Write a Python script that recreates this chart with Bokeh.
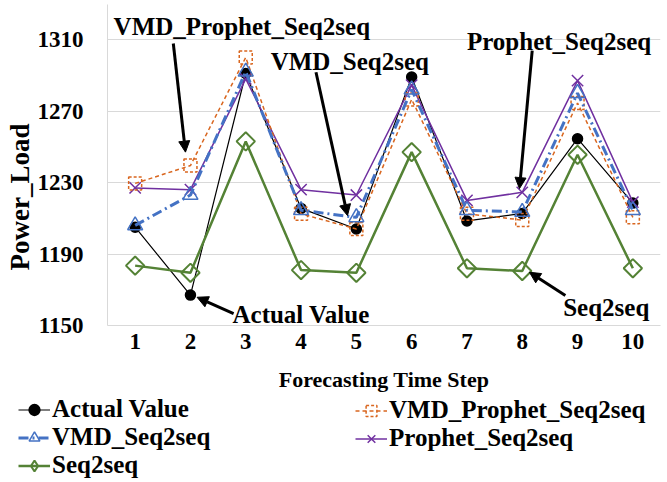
import math
from bokeh.plotting import figure
from bokeh.models import Range1d, Legend, LegendItem, Label, Arrow, NormalHead, FixedTicker, Title
from bokeh.embed import file_html
from bokeh.resources import INLINE

steps = [1, 2, 3, 4, 5, 6, 7, 8, 9, 10]
actual = [1205, 1167, 1291, 1215.5, 1204, 1289, 1208.5, 1212.7, 1254.5, 1218.5]
vmd_prophet = [1229.5, 1239.5, 1300, 1212.5, 1204, 1276.5, 1212.5, 1209, 1274.5, 1210.5]
vmd_seq = [1206, 1223, 1292, 1214.5, 1210.5, 1282, 1214.5, 1213.5, 1280, 1214.5]
prophet = [1227, 1226, 1288, 1226, 1223, 1284.5, 1220, 1224.5, 1287, 1219]
seq2seq = [1183.5, 1179.5, 1253, 1181, 1179.5, 1247, 1182, 1180.5, 1245.5, 1182]
y_ticks = [1150, 1190, 1230, 1270, 1310]

FONT = "Liberation Serif"

series = [
    # name, values, color, line width, line dash, marker, size, angle, marker line dash, filled
    ("Actual Value", actual, "black", 1.2, "solid", "circle", 10, 0.0, "solid", True),
    ("Seq2seq", seq2seq, "#548235", 2.5, "solid", "square", 13, math.pi / 4, "solid", False),
    ("Prophet_Seq2seq", prophet, "#7030A0", 1.5, "solid", "x", 16, 0.0, "solid", False),
    ("VMD_Prophet_Seq2seq", vmd_prophet, "#D9661F", 1.5, "4 3", "square", 13, 0.0, "3 2", False),
    ("VMD_Seq2seq", vmd_seq, "#4472C4", 3, "10 4 2 4", "triangle", 15, 0.0, "solid", False),
]


def draw(fig, legend_mode=False):
    out = {}
    for name, vals, col, lw, dash, mk, sz, ang, mdash, filled in series:
        ln = fig.line(steps, vals, line_color=col, line_width=lw, line_dash=dash)
        if legend_mode and name == "Seq2seq":
            mk, sz, ang = "diamond", 17, 0.0
        elif legend_mode:
            sz = sz - 2
        sc = fig.scatter(steps, vals, marker=mk, size=sz, angle=ang,
                         fill_color=col if filled else "white", fill_alpha=1 if filled else 0,
                         line_color=col, line_width=1.5 if name != "Seq2seq" else 2,
                         line_dash=mdash)
        out[name] = [ln, sc]
    return out


p = figure(width=662, height=394, output_backend="svg", toolbar_location=None,
           x_range=Range1d(0.5, 10.5), y_range=Range1d(1150, 1329.6),
           min_border_left=107, min_border_right=2, min_border_top=4, min_border_bottom=69)
p.outline_line_color = None
p.xgrid.grid_line_color = None
p.ygrid.grid_line_color = "#D9D9D9"
p.ygrid.grid_line_width = 1

p.xaxis.ticker = FixedTicker(ticks=steps)
p.yaxis.ticker = FixedTicker(ticks=y_ticks)
for ax in (p.xaxis, p.yaxis):
    ax.axis_line_color = "#D9D9D9"
    ax.major_tick_line_color = None
    ax.minor_tick_line_color = None
    ax.major_label_text_font = FONT
    ax.major_label_text_font_style = "bold"
    ax.major_label_text_font_size = "23px"
    ax.major_label_text_color = "black"
p.yaxis.major_label_standoff = 18
p.xaxis.major_label_standoff = 2
p.xaxis.axis_label = "Forecasting Time Step"
p.xaxis.axis_label_text_font = FONT
p.xaxis.axis_label_text_font_style = "bold"
p.xaxis.axis_label_text_font_size = "22px"
p.xaxis.axis_label_standoff = 15
p.xaxis.axis_label_text_color = "black"

draw(p)

# y axis title
p.add_layout(Title(text="Power_Load", align="left", offset=55, text_font=FONT,
                   text_font_style="bold", text_font_size="27px", text_color="black",
                   standoff=0), "left")

# annotations
notes = [
    ("VMD_Prophet_Seq2seq", 0.61, 1317.4),
    ("VMD_Seq2seq", 3.45, 1297.6),
    ("Prophet_Seq2seq", 7.0, 1309.0),
    ("Actual Value", 2.76, 1156.3),
    ("Seq2seq", 8.74, 1160.0),
]
for t, x, y in notes:
    p.add_layout(Label(x=x, y=y, text=t, text_align="left", text_baseline="alphabetic",
                       text_font=FONT, text_font_style="bold", text_font_size="25px",
                       text_color="black"))

arrows = [
    (1.69, 1307.8, 1.91, 1247.0),
    (4.27, 1291.7, 4.84, 1211.5),
    (8.18, 1303.8, 7.95, 1226.6),
    (2.78, 1156.7, 2.12, 1165.8),
    (8.78, 1166.8, 8.13, 1179.8),
]
for xs, ys, xe, ye in arrows:
    p.add_layout(Arrow(x_start=xs, y_start=ys, x_end=xe, y_end=ye, line_width=3,
                       line_color="black",
                       end=NormalHead(size=11, fill_color="black", line_color="black")))

# legend strip (same series, out of view, only used for legend glyphs)
lf = figure(width=662, height=86, output_backend="svg", toolbar_location=None,
            x_range=Range1d(0, 1), y_range=Range1d(0, 1), x_axis_type=None, y_axis_type=None,
            min_border=0)
lf.outline_line_color = None
lf.grid.visible = False
rs = draw(lf, legend_mode=True)


def mk_legend(names, loc):
    lg = Legend(items=[LegendItem(label=n, renderers=rs[n]) for n in names],
                orientation="vertical", location=loc)
    lg.label_text_font = FONT
    lg.label_text_font_style = "bold"
    lg.label_text_font_size = "25px"
    lg.label_text_color = "black"
    lg.glyph_width = 32
    lg.glyph_height = 27
    lg.label_height = 27
    lg.spacing = 0
    lg.padding = 0
    lg.margin = 0
    lg.label_standoff = 2
    lg.border_line_color = None
    lg.background_fill_alpha = 0
    return lg


lf.add_layout(mk_legend(["Actual Value", "VMD_Seq2seq", "Seq2seq"], (18, 1)))
lf.add_layout(mk_legend(["VMD_Prophet_Seq2seq", "Prophet_Seq2seq"], (355, 28)))

open("out.html", "w").write(file_html((p, lf), INLINE))
